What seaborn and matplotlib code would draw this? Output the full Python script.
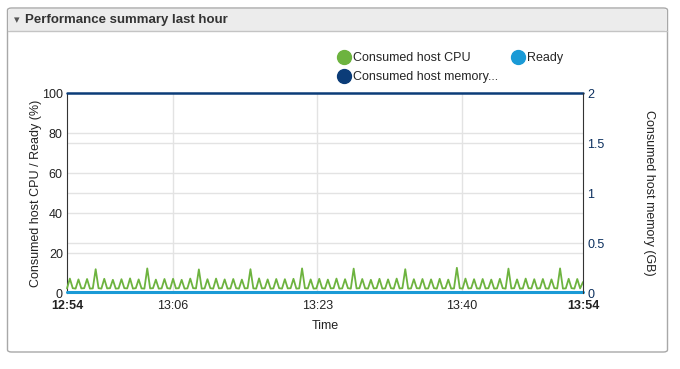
import numpy as np
import matplotlib
matplotlib.use('Agg')
import matplotlib.pyplot as plt
from matplotlib.patches import FancyBboxPatch
from matplotlib.lines import Line2D
import seaborn as sns

# Consumed host CPU (%), one sample every 20 seconds from 12:54 to 13:54
cpu_pct = [
    2.3, 7.2, 2.4, 2.2, 6.8, 2.3, 2.4, 7.0, 2.2, 2.3, 11.9, 2.4, 2.2, 7.1, 2.3, 2.4, 6.6, 2.2,
    2.3, 6.9, 2.4, 2.3, 7.3, 2.2, 2.4, 6.8, 2.3, 2.2, 12.3, 2.3, 2.4, 6.7, 2.2, 2.3, 7.0, 2.4,
    2.2, 7.1, 2.3, 2.4, 6.6, 2.2, 2.3, 7.2, 2.4, 2.3, 11.8, 2.2, 2.3, 6.9, 2.4, 2.2, 7.2, 2.3,
    2.4, 6.8, 2.2, 2.3, 7.0, 2.4, 2.2, 6.7, 2.3, 2.4, 11.9, 2.3, 2.2, 7.3, 2.3, 2.4, 6.8, 2.2,
    2.3, 7.0, 2.4, 2.2, 6.9, 2.3, 2.4, 7.1, 2.2, 2.3, 12.3, 2.4, 2.3, 6.8, 2.2, 2.3, 7.1, 2.4,
    2.2, 6.7, 2.3, 2.4, 7.2, 2.2, 2.3, 6.9, 2.4, 2.2, 12.2, 2.3, 2.4, 7.0, 2.3, 2.2, 6.6, 2.3,
    2.4, 7.1, 2.2, 2.3, 6.8, 2.4, 2.2, 7.2, 2.3, 2.4, 11.9, 2.2, 2.3, 6.9, 2.4, 2.3, 7.0, 2.2,
    2.3, 6.8, 2.4, 2.2, 7.1, 2.3, 2.4, 6.7, 2.2, 2.3, 12.6, 2.4, 2.2, 7.2, 2.3, 2.4, 6.9, 2.3,
    2.2, 7.0, 2.3, 2.4, 6.7, 2.2, 2.3, 7.1, 2.4, 2.2, 12.2, 2.3, 2.4, 6.8, 2.2, 2.3, 7.2, 2.4,
    2.3, 6.9, 2.2, 2.4, 7.0, 2.3, 2.2, 6.8, 2.4, 2.3, 12.3, 2.2, 2.3, 7.1, 2.4, 2.2, 7.0, 2.3,
    5.5,
]
cpu_minutes = np.arange(len(cpu_pct)) / 3.0

# Ready (%) and consumed host memory (GB), sampled every 5 minutes
slow_minutes = [0, 5, 10, 15, 20, 25, 30, 35, 40, 45, 50, 55, 60]
ready_pct = [0.3, 0.3, 0.3, 0.3, 0.3, 0.3, 0.3, 0.3, 0.3, 0.3, 0.3, 0.3, 0.3]
memory_gb = [2.0, 2.0, 2.0, 2.0, 2.0, 2.0, 2.0, 2.0, 2.0, 2.0, 2.0, 2.0, 2.0]

# x ticks (minutes after 12:54)
tick_pos = [0, 12.3, 29.1, 45.9, 60]
tick_labels = ['12:54', '13:06', '13:23', '13:40', '13:54']

green = '#6db33f'
light_blue = '#1a9ad6'
navy = '#0b3c78'

sns.set_style('white')
plt.rcParams['font.family'] = ['Liberation Sans', 'DejaVu Sans']

W, H = 680, 369
fig = plt.figure(figsize=(6.8, 3.69), dpi=100)

def fx(x):
    return x / W

def fy(y):
    return 1 - y / H

# panel frame + header
fig.patches.append(FancyBboxPatch((fx(7.5), fy(352)), fx(660), (344) / H,
                                  boxstyle='round,pad=0,rounding_size=0.006',
                                  transform=fig.transFigure, facecolor='white',
                                  edgecolor='#a8a8a8', linewidth=1, zorder=0))
fig.patches.append(FancyBboxPatch((fx(8.5), fy(31)), fx(658), 22 / H,
                                  boxstyle='round,pad=0,rounding_size=0.005',
                                  transform=fig.transFigure, facecolor='#ececec',
                                  edgecolor='none', zorder=1))
fig.lines.append(Line2D([fx(8), fx(667)], [fy(31), fy(31)], transform=fig.transFigure,
                        color='#c4c4c4', linewidth=1, zorder=2))
fig.text(fx(14), fy(20), '\u25be', fontsize=8, color='#555555', va='center', ha='left',
         family=['DejaVu Sans'])
fig.text(fx(25), fy(20), 'Performance summary last hour', fontsize=9.5, weight='bold',
         color='#333333', va='center', ha='left')

ax = fig.add_axes([fx(67), fy(293), fx(583) - fx(67), (293 - 93) / H])
ax2 = ax.twinx()
ax.set_zorder(5)
ax2.set_zorder(6)
ax.patch.set_visible(False)
ax2.patch.set_visible(False)

sns.lineplot(x=cpu_minutes, y=cpu_pct, ax=ax, color=green, linewidth=1.3, zorder=3)
sns.lineplot(x=slow_minutes, y=ready_pct, ax=ax, color=light_blue, linewidth=2.2, zorder=4)
sns.lineplot(x=slow_minutes, y=memory_gb, ax=ax2, color=navy, linewidth=1.8)
for ln in ax2.lines:
    ln.set_clip_on(False)
for ln in ax.lines:
    ln.set_clip_on(False)

ax.set_xlim(0, 60)
ax.set_ylim(0, 100)
ax2.set_ylim(0, 2)
ax.set_yticks([0, 20, 40, 60, 80, 100])
ax2.set_yticks([0, 0.5, 1, 1.5, 2])
ax2.set_yticklabels(['0', '0.5', '1', '1.5', '2'])
ax.set_xticks(tick_pos)
ax.set_xticklabels(tick_labels)
for i, t in enumerate(ax.get_xticklabels()):
    if i in (0, len(tick_labels) - 1):
        t.set_fontweight('bold')

# grid: both axes' y ticks plus inner x ticks
for v in [20, 40, 60, 80]:
    ax.axhline(v, color='#e3e3e3', linewidth=1, zorder=0)
for v in [0.5, 1, 1.5]:
    ax.axhline(v * 50, color='#e3e3e3', linewidth=1, zorder=0)
for v in tick_pos[1:-1]:
    ax.axvline(v, color='#e3e3e3', linewidth=1, zorder=0)

ax.tick_params(axis='y', length=0, pad=3, labelsize=9, labelcolor='#222222')
ax2.tick_params(axis='y', length=0, pad=3, labelsize=9, labelcolor='#0b2f5e')
ax.tick_params(axis='x', length=3, pad=2, labelsize=9, labelcolor='#222222', color='#444444')

for s in ['top', 'bottom']:
    ax.spines[s].set_visible(False)
    ax2.spines[s].set_visible(False)
ax.spines['left'].set_color('#333333')
ax2.spines['left'].set_visible(False)
ax2.spines['right'].set_color('#333333')
ax.spines['right'].set_visible(False)

ax.set_ylabel('Consumed host CPU / Ready (%)', fontsize=9, color='#222222', va='center')
ax.yaxis.set_label_coords((36 - 67) / 516, 0.5)
ax2.set_ylabel('Consumed host memory (GB)', fontsize=9, color='#222222', rotation=-90,
               va='center')
ax2.yaxis.set_label_coords((649 - 67) / 516, 0.5)
ax.set_xlabel('Time', fontsize=9, color='#222222', va='center')
ax.xaxis.set_label_coords(0.5, (293 - 326) / 200)

# legend
handles = [
    Line2D([], [], marker='o', linestyle='none', markersize=10, color=green),
    Line2D([], [], marker='o', linestyle='none', markersize=10, color=navy),
    Line2D([], [], marker='o', linestyle='none', markersize=10, color=light_blue),
]
labels = ['Consumed host CPU', 'Consumed host memory...', 'Ready']
fig.legend(handles, labels, ncol=2, loc='upper left', bbox_to_anchor=(fx(338), fy(52)),
           frameon=False, fontsize=9, handletextpad=0.3, columnspacing=1.15,
           handlelength=0.9, labelspacing=0.55, borderpad=0, borderaxespad=0)

fig.savefig('out.png', dpi=100)
